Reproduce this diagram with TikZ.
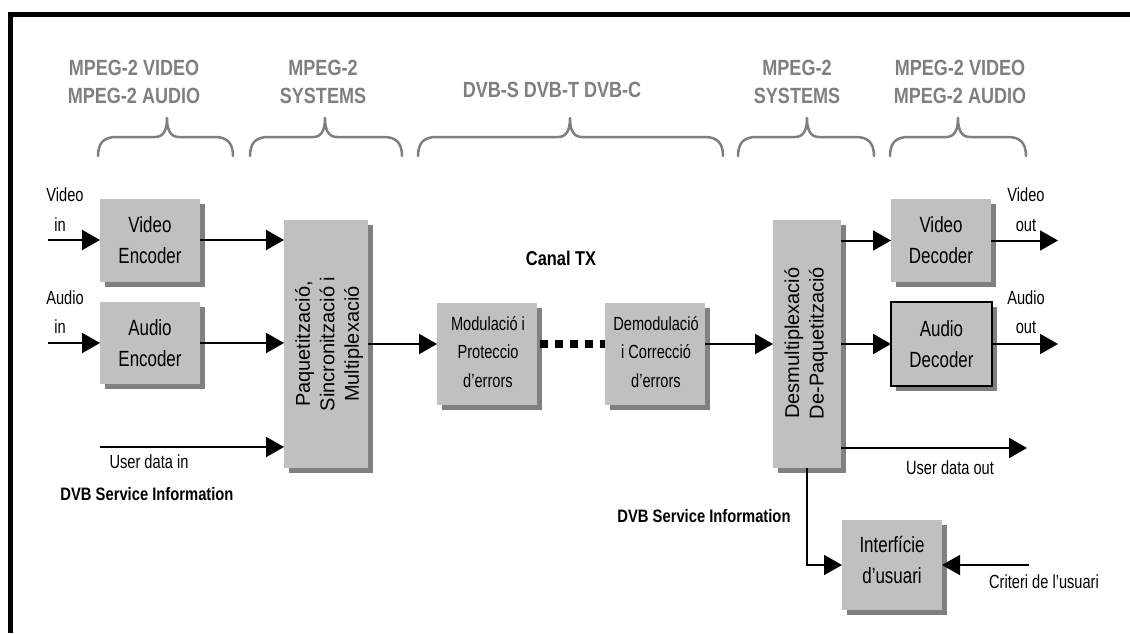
\documentclass[tikz,border=0pt]{standalone}
\usepackage{fontspec}
\setmainfont{Liberation Sans}
\newfontfamily\nar{Liberation Sans}[FakeStretch=0.82]
\newfontfamily\nnar{Liberation Sans}[FakeStretch=0.77]
\usetikzlibrary{arrows.meta,shadows}
\definecolor{boxgray}{HTML}{C0C0C0}
\definecolor{shadegray}{HTML}{808080}
\definecolor{headgray}{HTML}{7F7F7F}

% curly brace under a header: left end, tip, right end (x values)
\newcommand\hdbrace[3]{%
  \draw[brc] (#1,156) .. controls (#1,143) and (#1+6,137) .. (#1+18,137)
    -- (#2-12,137) .. controls (#2-4,137) and (#2,131) .. (#2,118)
    .. controls (#2,131) and (#2+4,137) .. (#2+12,137)
    -- (#3-18,137) .. controls (#3-6,137) and (#3,143) .. (#3,156);}

\begin{document}
\begin{tikzpicture}[x=1pt,y=-1pt,
  box/.style={fill=boxgray, draw=none, inner sep=0pt, outer sep=0pt,
    drop shadow={shadow xshift=5pt, shadow yshift=-5pt, fill=shadegray, opacity=1}},
  btxt/.style={font=\nnar\fontsize{22}{31}\selectfont, align=center, inner sep=0pt},
  stxt/.style={font=\nnar\fontsize{19}{28.5}\selectfont, align=center, inner sep=0pt},
  rtxt/.style={font=\fontsize{20}{24.5}\selectfont, align=center, inner sep=0pt, rotate=90},
  lbl/.style={font=\nnar\fontsize{19}{20}\selectfont, inner sep=0pt},
  bold/.style={font=\nar\bfseries\fontsize{18}{20}\selectfont, inner sep=0pt},
  head/.style={font=\nar\bfseries\fontsize{22}{28}\selectfont, text=headgray, align=center, inner sep=0pt},
  brc/.style={draw=headgray, line width=2.5pt, line cap=round, line join=round},
  arr/.style={line width=2pt, -{Triangle[length=18pt,width=20pt]}},
  dotline/.style={line width=8pt, dash pattern=on 8pt off 7pt}
]
\useasboundingbox (0,0) rectangle (1130,633);

% frame
\draw[line width=5pt] (10.5,633) -- (10.5,14.5) -- (1130,14.5);

% standards headers and braces
\node[head] (h1) at (134,82) {MPEG-2 VIDEO\\MPEG-2 AUDIO};
\node[head] (h2) at (323,82) {MPEG-2\\SYSTEMS};
\node[head] (h3) at (552,90) {DVB-S DVB-T DVB-C};
\node[head] (h4) at (797,82) {MPEG-2\\SYSTEMS};
\node[head] (h5) at (960,82) {MPEG-2 VIDEO\\MPEG-2 AUDIO};
\hdbrace{98}{167}{233}
\hdbrace{250}{325}{402}
\hdbrace{418}{570}{723}
\hdbrace{738}{807}{874}
\hdbrace{890}{958}{1026}

% blocks
\node[box, minimum width=100pt, minimum height=83pt] (venc) at (150,240) {};
\node[btxt] (venct) at (venc.center) {Video\\Encoder};
\node[box, minimum width=100pt, minimum height=82pt] (aenc) at (150,343) {};
\node[btxt] (aenct) at (aenc.center) {Audio\\Encoder};
\node[box, minimum width=84pt, minimum height=248pt] (mux) at (326,344) {};
\node[rtxt] (muxt) at (329,344) {Paquetització,\\Sincronització i\\Multiplexació};
\node[box, minimum width=100pt, minimum height=102pt] (mod) at (487,354) {};
\node[stxt] (modt) at (488,352) {Modulació i\\Proteccio\\d’errors};
\node[box, minimum width=100pt, minimum height=102pt] (demod) at (655,354) {};
\node[stxt] (demodt) at (656,352) {Demodulació\\i Correcció\\d’errors};
\node[box, minimum width=68pt, minimum height=248pt] (demux) at (807,344) {};
\node[rtxt] (demuxt) at (806,343) {Desmultiplexació\\De-Paquetització};
\node[box, minimum width=100pt, minimum height=83pt] (vdec) at (941,240.5) {};
\node[btxt] (vdect) at (vdec.center) {Video\\Decoder};
\node[box, draw=black, line width=1.5pt, minimum width=101pt, minimum height=84pt] (adec) at (941.5,344) {};
\node[btxt] (adect) at (adec.center) {Audio\\Decoder};
\node[box, minimum width=100pt, minimum height=90pt] (ui) at (892,565) {};
\node[btxt] (uit) at (892,560) {Interfície\\d’usuari};

% free ends of connectors
\coordinate (vin) at (48,240);
\coordinate (ain) at (48,343);
\coordinate (udi) at (100,447);
\coordinate (vout) at (1058,240.5);
\coordinate (aout) at (1058,344);
\coordinate (udo) at (1027,448);
\coordinate (crit) at (1029,565);

% connectors
\draw[arr] (vin) -- (venc.west);
\draw[arr] (ain) -- (aenc.west);
\draw[arr] (venc.east) -- (venc.east -| mux.west);
\draw[arr] (aenc.east) -- (aenc.east -| mux.west);
\draw[arr] (udi) -- (udi -| mux.west);
\draw[arr] (mux.east) -- (mux.east -| mod.west);
\draw[dotline] ([xshift=3pt]mux.east -| mod.east) -- (mux.east -| demod.west);
\draw[arr] (mux.east -| demod.east) -- (demux.west);
\draw[arr] (vdec.west -| demux.east) -- (vdec.west);
\draw[arr] (adec.west -| demux.east) -- (adec.west);
\draw[arr] (vdec.east) -- (vout);
\draw[arr] (adec.east) -- (aout);
\draw[arr] (udo -| demux.east) -- (udo);
\draw[arr] (demux.south) |- (ui.west);
\draw[arr] (crit) -- (ui.east);

% labels
\node[lbl] (l1) at (65,195) {Video};
\node[lbl] (l2) at (60,225) {in};
\node[lbl] (l3) at (65,298) {Audio};
\node[lbl] (l4) at (60,327) {in};
\node[lbl] (l5) at (149,462) {User data in};
\node[bold] (l6) at (147,494) {DVB Service Information};
\node[font=\nar\bfseries\fontsize{20}{22}\selectfont, inner sep=0pt] (l7) at (561,258) {Canal TX};
\node[lbl] (l8) at (1026,195) {Video};
\node[lbl] (l9) at (1026,225) {out};
\node[lbl] (l10) at (1026,298) {Audio};
\node[lbl] (l11) at (1026,327) {out};
\node[lbl] (l12) at (950,468) {User data out};
\node[bold] (l13) at (704,516) {DVB Service Information};
\node[lbl] (l14) at (1044,582) {Criteri de l’usuari};
\end{tikzpicture}
\end{document}
